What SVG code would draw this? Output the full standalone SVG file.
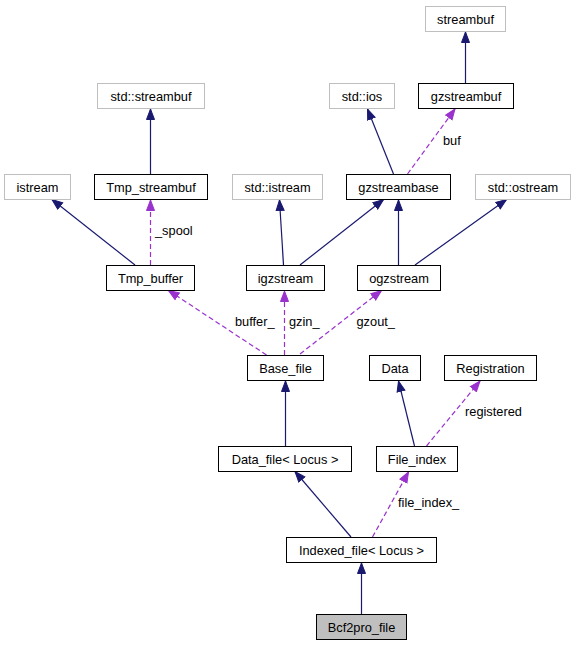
<svg xmlns="http://www.w3.org/2000/svg" width="576" height="645" viewBox="0 0 576 645">
<style>
text{font-family:"Liberation Sans",Arial,sans-serif;font-size:12.8px;fill:#000}
.n text{text-anchor:middle}
.b{fill:#fff;stroke:#000;stroke-width:1}
.g{fill:#fff;stroke:#bfbfbf;stroke-width:1}
.s{fill:#bfbfbf;stroke:#000;stroke-width:1}
.i{fill:none;stroke:#191970;stroke-width:1.2}
.u{fill:none;stroke:#9a32cd;stroke-width:1.2;stroke-dasharray:5,3}
</style>
<defs>
<marker id="ai" markerUnits="userSpaceOnUse" markerWidth="12" markerHeight="10" refX="11" refY="4.5" orient="auto" viewBox="0 0 12 9">
<path d="M0.5,0.5 L11,4.5 L0.5,8.5 z" fill="#191970" stroke="#191970"/>
</marker>
<marker id="au" markerUnits="userSpaceOnUse" markerWidth="12" markerHeight="10" refX="11" refY="4.5" orient="auto" viewBox="0 0 12 9">
<path d="M0.5,0.5 L11,4.5 L0.5,8.5 z" fill="#9a32cd" stroke="#9a32cd"/>
</marker>
</defs>
<rect width="576" height="645" fill="#fff"/>
<g id="edges">
<path class="i" d="M150.5,174 L150.5,109" marker-end="url(#ai)"/>
<path class="i" d="M135,265 L52,199.5" marker-end="url(#ai)"/>
<path class="u" d="M150.5,265 L150.5,200" marker-end="url(#au)"/>
<text x="155" y="235">_spool</text>
<path class="i" d="M283.5,265 L279.5,200" marker-end="url(#ai)"/>
<path class="i" d="M300,265 L383.5,199.5" marker-end="url(#ai)"/>
<path class="i" d="M398.5,265 L398.5,200" marker-end="url(#ai)"/>
<path class="i" d="M415,265 L506.5,199.5" marker-end="url(#ai)"/>
<path class="i" d="M393.5,174 L367.5,109" marker-end="url(#ai)"/>
<path class="u" d="M407.5,174 L455,109" marker-end="url(#au)"/>
<text x="443" y="145">buf</text>
<path class="i" d="M465.5,83 L465.5,32" marker-end="url(#ai)"/>
<path class="u" d="M266.5,355 L168.5,290.5" marker-end="url(#au)"/>
<text x="235" y="326">buffer_</text>
<path class="u" d="M284.5,355 L284.5,291" marker-end="url(#au)"/>
<text x="289" y="326">gzin_</text>
<path class="u" d="M300,354 L381.5,290.5" marker-end="url(#au)"/>
<text x="356.5" y="326">gzout_</text>
<path class="i" d="M285.5,446 L285.5,381" marker-end="url(#ai)"/>
<path class="i" d="M414.5,446 L398.5,381" marker-end="url(#ai)"/>
<path class="u" d="M426.5,446 L480,381" marker-end="url(#au)"/>
<text x="465" y="416">registered</text>
<path class="i" d="M351,537 L295,471.5" marker-end="url(#ai)"/>
<path class="u" d="M372.5,537 L408.5,472" marker-end="url(#au)"/>
<text x="398" y="507">file_index_</text>
<path class="i" d="M361.5,614 L361.5,563" marker-end="url(#ai)"/>
</g>
<g id="streambuf" class="n"><rect class="g" x="425.5" y="6.5" width="80" height="25"/><text x="465.5" y="23.5">streambuf</text></g>
<g id="std_streambuf" class="n"><rect class="g" x="97.5" y="83.5" width="107" height="25"/><text x="151" y="100.5">std::streambuf</text></g>
<g id="std_ios" class="n"><rect class="g" x="329.5" y="83.5" width="65" height="25"/><text x="362" y="100.5">std::ios</text></g>
<g id="gzstreambuf" class="n"><rect class="b" x="418.5" y="83.5" width="95" height="25"/><text x="466" y="100.5">gzstreambuf</text></g>
<g id="istream" class="n"><rect class="g" x="4.5" y="174.5" width="66" height="25"/><text x="37.5" y="191.5">istream</text></g>
<g id="Tmp_streambuf" class="n"><rect class="b" x="94.5" y="174.5" width="113" height="25"/><text x="151" y="191.5">Tmp_streambuf</text></g>
<g id="std_istream" class="n"><rect class="g" x="232.5" y="174.5" width="90" height="25"/><text x="277.5" y="191.5">std::istream</text></g>
<g id="gzstreambase" class="n"><rect class="b" x="346.5" y="174.5" width="104" height="25"/><text x="398.5" y="191.5">gzstreambase</text></g>
<g id="std_ostream" class="n"><rect class="g" x="475.5" y="174.5" width="95" height="25"/><text x="523" y="191.5">std::ostream</text></g>
<g id="Tmp_buffer" class="n"><rect class="b" x="106.5" y="265.5" width="88" height="25"/><text x="150.5" y="282.5">Tmp_buffer</text></g>
<g id="igzstream" class="n"><rect class="b" x="246.5" y="265.5" width="78" height="25"/><text x="285.5" y="282.5">igzstream</text></g>
<g id="ogzstream" class="n"><rect class="b" x="357.5" y="265.5" width="83" height="25"/><text x="399" y="282.5">ogzstream</text></g>
<g id="Base_file" class="n"><rect class="b" x="247.5" y="355.5" width="76" height="25"/><text x="285.5" y="372.5">Base_file</text></g>
<g id="Data" class="n"><rect class="b" x="369.5" y="355.5" width="51" height="25"/><text x="395" y="372.5">Data</text></g>
<g id="Registration" class="n"><rect class="b" x="444.5" y="355.5" width="92" height="25"/><text x="490.5" y="372.5">Registration</text></g>
<g id="Data_file" class="n"><rect class="b" x="218.5" y="446.5" width="133" height="25"/><text x="285" y="463.5">Data_file&lt; Locus &gt;</text></g>
<g id="File_index" class="n"><rect class="b" x="376.5" y="446.5" width="81" height="25"/><text x="417" y="463.5">File_index</text></g>
<g id="Indexed_file" class="n"><rect class="b" x="286.5" y="537.5" width="150" height="25"/><text x="361.5" y="554.5">Indexed_file&lt; Locus &gt;</text></g>
<g id="Bcf2pro_file" class="n"><rect class="s" x="316.5" y="614.5" width="90" height="25"/><text x="361.5" y="631.5">Bcf2pro_file</text></g>
</svg>
